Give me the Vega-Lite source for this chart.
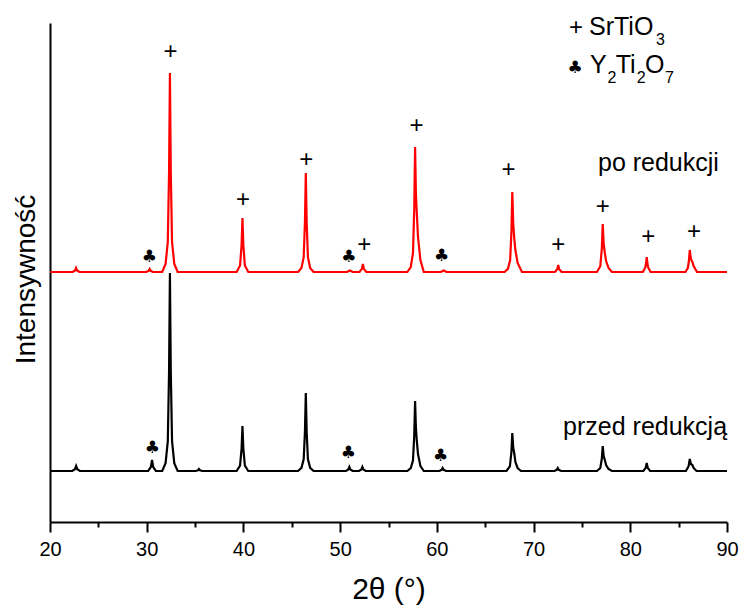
{
  "$schema": "https://vega.github.io/schema/vega-lite/v6.json",
  "width": 677,
  "height": 499,
  "autosize": {"type": "none"},
  "padding": {"left": 50, "top": 23, "right": 13, "bottom": 84},
  "background": "white",
  "config": {"view": {"stroke": null}, "font": "Liberation Sans"},
  "datasets": {
    "xrd": [
      {"sample": "przed redukcją", "t": 20, "v": 51},
      {"sample": "przed redukcją", "t": 22.3, "v": 51},
      {"sample": "przed redukcją", "t": 22.58, "v": 52.8},
      {"sample": "przed redukcją", "t": 22.7, "v": 56},
      {"sample": "przed redukcją", "t": 22.82, "v": 52.8},
      {"sample": "przed redukcją", "t": 23.1, "v": 51},
      {"sample": "przed redukcją", "t": 30.15, "v": 51},
      {"sample": "przed redukcją", "t": 30.43, "v": 54.9},
      {"sample": "przed redukcją", "t": 30.55, "v": 62},
      {"sample": "przed redukcją", "t": 30.67, "v": 54.9},
      {"sample": "przed redukcją", "t": 30.95, "v": 51},
      {"sample": "przed redukcją", "t": 31.6, "v": 51},
      {"sample": "przed redukcją", "t": 31.95, "v": 58.9},
      {"sample": "przed redukcją", "t": 32.18, "v": 80.7},
      {"sample": "przed redukcją", "t": 32.31, "v": 150},
      {"sample": "przed redukcją", "t": 32.4, "v": 249},
      {"sample": "przed redukcją", "t": 32.49, "v": 150},
      {"sample": "przed redukcją", "t": 32.62, "v": 80.7},
      {"sample": "przed redukcją", "t": 32.85, "v": 58.9},
      {"sample": "przed redukcją", "t": 33.2, "v": 51},
      {"sample": "przed redukcją", "t": 35.05, "v": 51},
      {"sample": "przed redukcją", "t": 35.3, "v": 51.8},
      {"sample": "przed redukcją", "t": 35.4, "v": 53},
      {"sample": "przed redukcją", "t": 35.5, "v": 51.8},
      {"sample": "przed redukcją", "t": 35.75, "v": 51},
      {"sample": "przed redukcją", "t": 39.3, "v": 51},
      {"sample": "przed redukcją", "t": 39.65, "v": 56.4},
      {"sample": "przed redukcją", "t": 39.81, "v": 73.5},
      {"sample": "przed redukcją", "t": 39.9, "v": 96},
      {"sample": "przed redukcją", "t": 39.99, "v": 73.5},
      {"sample": "przed redukcją", "t": 40.15, "v": 56.4},
      {"sample": "przed redukcją", "t": 40.5, "v": 51},
      {"sample": "przed redukcją", "t": 45.65, "v": 51},
      {"sample": "przed redukcją", "t": 46.0, "v": 54.1},
      {"sample": "przed redukcją", "t": 46.23, "v": 62.7},
      {"sample": "przed redukcją", "t": 46.36, "v": 90},
      {"sample": "przed redukcją", "t": 46.45, "v": 129},
      {"sample": "przed redukcją", "t": 46.54, "v": 90},
      {"sample": "przed redukcją", "t": 46.67, "v": 62.7},
      {"sample": "przed redukcją", "t": 46.9, "v": 54.1},
      {"sample": "przed redukcją", "t": 47.25, "v": 51},
      {"sample": "przed redukcją", "t": 50.6, "v": 51},
      {"sample": "przed redukcją", "t": 50.85, "v": 52.6},
      {"sample": "przed redukcją", "t": 50.95, "v": 55},
      {"sample": "przed redukcją", "t": 51.05, "v": 52.6},
      {"sample": "przed redukcją", "t": 51.3, "v": 51},
      {"sample": "przed redukcją", "t": 51.95, "v": 51},
      {"sample": "przed redukcją", "t": 52.2, "v": 52.6},
      {"sample": "przed redukcją", "t": 52.3, "v": 55},
      {"sample": "przed redukcją", "t": 52.4, "v": 52.6},
      {"sample": "przed redukcją", "t": 52.65, "v": 51},
      {"sample": "przed redukcją", "t": 56.95, "v": 51},
      {"sample": "przed redukcją", "t": 57.3, "v": 53.8},
      {"sample": "przed redukcją", "t": 57.53, "v": 61.5},
      {"sample": "przed redukcją", "t": 57.66, "v": 86},
      {"sample": "przed redukcją", "t": 57.75, "v": 121},
      {"sample": "przed redukcją", "t": 57.83, "v": 95},
      {"sample": "przed redukcją", "t": 57.92, "v": 82},
      {"sample": "przed redukcją", "t": 58.05, "v": 68},
      {"sample": "przed redukcją", "t": 58.3, "v": 56},
      {"sample": "przed redukcją", "t": 58.65, "v": 51},
      {"sample": "przed redukcją", "t": 60.25, "v": 51},
      {"sample": "przed redukcją", "t": 60.5, "v": 52.2},
      {"sample": "przed redukcją", "t": 60.6, "v": 54},
      {"sample": "przed redukcją", "t": 60.7, "v": 52.2},
      {"sample": "przed redukcją", "t": 60.95, "v": 51},
      {"sample": "przed redukcją", "t": 67.2, "v": 51},
      {"sample": "przed redukcją", "t": 67.55, "v": 55.6},
      {"sample": "przed redukcją", "t": 67.71, "v": 70},
      {"sample": "przed redukcją", "t": 67.8, "v": 89},
      {"sample": "przed redukcją", "t": 67.9, "v": 74},
      {"sample": "przed redukcją", "t": 68.0, "v": 69},
      {"sample": "przed redukcją", "t": 68.12, "v": 60},
      {"sample": "przed redukcją", "t": 68.35, "v": 54},
      {"sample": "przed redukcją", "t": 68.7, "v": 51},
      {"sample": "przed redukcją", "t": 72.15, "v": 51},
      {"sample": "przed redukcją", "t": 72.4, "v": 52.2},
      {"sample": "przed redukcją", "t": 72.5, "v": 54},
      {"sample": "przed redukcją", "t": 72.6, "v": 52.2},
      {"sample": "przed redukcją", "t": 72.85, "v": 51},
      {"sample": "przed redukcją", "t": 76.55, "v": 51},
      {"sample": "przed redukcją", "t": 76.9, "v": 54},
      {"sample": "przed redukcją", "t": 77.06, "v": 63.5},
      {"sample": "przed redukcją", "t": 77.15, "v": 76},
      {"sample": "przed redukcją", "t": 77.25, "v": 66},
      {"sample": "przed redukcją", "t": 77.37, "v": 62},
      {"sample": "przed redukcją", "t": 77.5, "v": 57},
      {"sample": "przed redukcją", "t": 77.75, "v": 53},
      {"sample": "przed redukcją", "t": 78.1, "v": 51},
      {"sample": "przed redukcją", "t": 81.35, "v": 51},
      {"sample": "przed redukcją", "t": 81.6, "v": 54.2},
      {"sample": "przed redukcją", "t": 81.7, "v": 59},
      {"sample": "przed redukcją", "t": 81.8, "v": 54.2},
      {"sample": "przed redukcją", "t": 82.05, "v": 51},
      {"sample": "przed redukcją", "t": 85.75, "v": 51},
      {"sample": "przed redukcją", "t": 86.03, "v": 55.8},
      {"sample": "przed redukcją", "t": 86.15, "v": 63},
      {"sample": "przed redukcją", "t": 86.27, "v": 58},
      {"sample": "przed redukcją", "t": 86.42, "v": 57},
      {"sample": "przed redukcją", "t": 86.55, "v": 54},
      {"sample": "przed redukcją", "t": 86.85, "v": 51},
      {"sample": "przed redukcją", "t": 90, "v": 51},
      {"sample": "po redukcji", "t": 20, "v": 250},
      {"sample": "po redukcji", "t": 22.35, "v": 250},
      {"sample": "po redukcji", "t": 22.6, "v": 251.6},
      {"sample": "po redukcji", "t": 22.7, "v": 254},
      {"sample": "po redukcji", "t": 22.8, "v": 251.6},
      {"sample": "po redukcji", "t": 23.05, "v": 250},
      {"sample": "po redukcji", "t": 29.95, "v": 250},
      {"sample": "po redukcji", "t": 30.2, "v": 251.2},
      {"sample": "po redukcji", "t": 30.3, "v": 253},
      {"sample": "po redukcji", "t": 30.4, "v": 251.2},
      {"sample": "po redukcji", "t": 30.65, "v": 250},
      {"sample": "po redukcji", "t": 31.6, "v": 250},
      {"sample": "po redukcji", "t": 31.95, "v": 258},
      {"sample": "po redukcji", "t": 32.18, "v": 279.9},
      {"sample": "po redukcji", "t": 32.31, "v": 349.5},
      {"sample": "po redukcji", "t": 32.4, "v": 449},
      {"sample": "po redukcji", "t": 32.49, "v": 349.5},
      {"sample": "po redukcji", "t": 32.62, "v": 279.9},
      {"sample": "po redukcji", "t": 32.85, "v": 258},
      {"sample": "po redukcji", "t": 33.2, "v": 250},
      {"sample": "po redukcji", "t": 39.3, "v": 250},
      {"sample": "po redukcji", "t": 39.65, "v": 256.5},
      {"sample": "po redukcji", "t": 39.81, "v": 277},
      {"sample": "po redukcji", "t": 39.9, "v": 304},
      {"sample": "po redukcji", "t": 39.99, "v": 277},
      {"sample": "po redukcji", "t": 40.15, "v": 256.5},
      {"sample": "po redukcji", "t": 40.5, "v": 250},
      {"sample": "po redukcji", "t": 45.65, "v": 250},
      {"sample": "po redukcji", "t": 46.0, "v": 254},
      {"sample": "po redukcji", "t": 46.23, "v": 264.9},
      {"sample": "po redukcji", "t": 46.36, "v": 299.5},
      {"sample": "po redukcji", "t": 46.45, "v": 349},
      {"sample": "po redukcji", "t": 46.54, "v": 299.5},
      {"sample": "po redukcji", "t": 46.67, "v": 264.9},
      {"sample": "po redukcji", "t": 46.9, "v": 254},
      {"sample": "po redukcji", "t": 47.25, "v": 250},
      {"sample": "po redukcji", "t": 50.7, "v": 250},
      {"sample": "po redukcji", "t": 51.0, "v": 251.5},
      {"sample": "po redukcji", "t": 51.3, "v": 250},
      {"sample": "po redukcji", "t": 52.0, "v": 250},
      {"sample": "po redukcji", "t": 52.25, "v": 253.2},
      {"sample": "po redukcji", "t": 52.35, "v": 258},
      {"sample": "po redukcji", "t": 52.45, "v": 253.2},
      {"sample": "po redukcji", "t": 52.7, "v": 250},
      {"sample": "po redukcji", "t": 56.95, "v": 250},
      {"sample": "po redukcji", "t": 57.3, "v": 255},
      {"sample": "po redukcji", "t": 57.53, "v": 268.8},
      {"sample": "po redukcji", "t": 57.66, "v": 312.5},
      {"sample": "po redukcji", "t": 57.75, "v": 375},
      {"sample": "po redukcji", "t": 57.83, "v": 330},
      {"sample": "po redukcji", "t": 57.92, "v": 310},
      {"sample": "po redukcji", "t": 58.05, "v": 285},
      {"sample": "po redukcji", "t": 58.3, "v": 262},
      {"sample": "po redukcji", "t": 58.65, "v": 250},
      {"sample": "po redukcji", "t": 60.4, "v": 250},
      {"sample": "po redukcji", "t": 60.7, "v": 251.5},
      {"sample": "po redukcji", "t": 61.0, "v": 250},
      {"sample": "po redukcji", "t": 67.0, "v": 250},
      {"sample": "po redukcji", "t": 67.35, "v": 253.2},
      {"sample": "po redukcji", "t": 67.58, "v": 262},
      {"sample": "po redukcji", "t": 67.71, "v": 290},
      {"sample": "po redukcji", "t": 67.8, "v": 330},
      {"sample": "po redukcji", "t": 67.9, "v": 298},
      {"sample": "po redukcji", "t": 68.0, "v": 284},
      {"sample": "po redukcji", "t": 68.12, "v": 272},
      {"sample": "po redukcji", "t": 68.35, "v": 259},
      {"sample": "po redukcji", "t": 68.8, "v": 250},
      {"sample": "po redukcji", "t": 72.2, "v": 250},
      {"sample": "po redukcji", "t": 72.45, "v": 252.8},
      {"sample": "po redukcji", "t": 72.55, "v": 257},
      {"sample": "po redukcji", "t": 72.65, "v": 252.8},
      {"sample": "po redukcji", "t": 72.9, "v": 250},
      {"sample": "po redukcji", "t": 76.55, "v": 250},
      {"sample": "po redukcji", "t": 76.9, "v": 255.8},
      {"sample": "po redukcji", "t": 77.06, "v": 274},
      {"sample": "po redukcji", "t": 77.15, "v": 298},
      {"sample": "po redukcji", "t": 77.25, "v": 278},
      {"sample": "po redukcji", "t": 77.37, "v": 269},
      {"sample": "po redukcji", "t": 77.5, "v": 261},
      {"sample": "po redukcji", "t": 77.75, "v": 254},
      {"sample": "po redukcji", "t": 78.1, "v": 250},
      {"sample": "po redukcji", "t": 81.3, "v": 250},
      {"sample": "po redukcji", "t": 81.55, "v": 254.5},
      {"sample": "po redukcji", "t": 81.62, "v": 258},
      {"sample": "po redukcji", "t": 81.7, "v": 265},
      {"sample": "po redukcji", "t": 81.78, "v": 258},
      {"sample": "po redukcji", "t": 81.85, "v": 254.5},
      {"sample": "po redukcji", "t": 82.1, "v": 250},
      {"sample": "po redukcji", "t": 85.7, "v": 250},
      {"sample": "po redukcji", "t": 85.95, "v": 254},
      {"sample": "po redukcji", "t": 86.06, "v": 261},
      {"sample": "po redukcji", "t": 86.15, "v": 272},
      {"sample": "po redukcji", "t": 86.27, "v": 263},
      {"sample": "po redukcji", "t": 86.42, "v": 260},
      {"sample": "po redukcji", "t": 86.55, "v": 256},
      {"sample": "po redukcji", "t": 86.9, "v": 250},
      {"sample": "po redukcji", "t": 90, "v": 250}
    ],
    "marks": [
      {"kind": "plus", "t": 32.45, "v": 470, "text": "+"},
      {"kind": "plus", "t": 39.95, "v": 322, "text": "+"},
      {"kind": "plus", "t": 46.5, "v": 362, "text": "+"},
      {"kind": "plus", "t": 52.5, "v": 277, "text": "+"},
      {"kind": "plus", "t": 57.9, "v": 396, "text": "+"},
      {"kind": "plus", "t": 67.4, "v": 352, "text": "+"},
      {"kind": "plus", "t": 72.55, "v": 277, "text": "+"},
      {"kind": "plus", "t": 77.15, "v": 315, "text": "+"},
      {"kind": "plus", "t": 81.85, "v": 285, "text": "+"},
      {"kind": "plus", "t": 86.6, "v": 290, "text": "+"},
      {"kind": "plus", "t": 74.39, "v": 494, "text": "+"},
      {"kind": "club", "t": 30.27, "v": 265, "text": "♣"},
      {"kind": "club", "t": 50.9, "v": 265, "text": "♣"},
      {"kind": "club", "t": 60.5, "v": 266, "text": "♣"},
      {"kind": "club", "t": 30.58, "v": 74, "text": "♣"},
      {"kind": "club", "t": 50.85, "v": 69, "text": "♣"},
      {"kind": "club", "t": 60.4, "v": 66, "text": "♣"},
      {"kind": "club", "t": 74.29, "v": 454, "text": "♣"},
      {"kind": "label", "t": 76.66, "v": 351, "text": "po redukcji"},
      {"kind": "label", "t": 73.05, "v": 87, "text": "przed redukcją"},
      {"kind": "legend", "t": 75.73, "v": 487, "text": "SrTiO"},
      {"kind": "sub", "t": 82.67, "v": 477, "text": "3"},
      {"kind": "legend", "t": 75.84, "v": 449, "text": "Y"},
      {"kind": "sub", "t": 77.65, "v": 439, "text": "2"},
      {"kind": "legend", "t": 78.5, "v": 449, "text": "Ti"},
      {"kind": "sub", "t": 80.67, "v": 439, "text": "2"},
      {"kind": "legend", "t": 81.52, "v": 449, "text": "O"},
      {"kind": "sub", "t": 83.6, "v": 439, "text": "7"}
    ]
  },
  "layer": [
    {
      "data": {"name": "xrd"},
      "mark": {"type": "line", "strokeWidth": 2.2, "interpolate": "linear"},
      "encoding": {
        "x": {
          "field": "t", "type": "quantitative",
          "scale": {"domain": [20, 90], "nice": false, "zero": false},
          "axis": {
            "values": [20, 25, 30, 35, 40, 45, 50, 55, 60, 65, 70, 75, 80, 85, 90],
            "labelExpr": "datum.value % 10 === 0 ? datum.label : ''",
            "grid": false,
            "domainColor": "black", "domainWidth": 2,
            "tickColor": "black", "tickWidth": 2,
            "tickSize": {"condition": {"test": "datum.value % 10 === 0", "value": 10}, "value": 5},
            "labelFont": "Liberation Sans", "labelFontSize": 20, "labelColor": "black",
            "labelPadding": 7, "labelFlush": false, "labelOverlap": false,
            "title": "2θ (°)", "titleFont": "Liberation Sans", "titleFontSize": 30,
            "titleFontWeight": "normal", "titleColor": "black", "titlePadding": 15
          }
        },
        "y": {
          "field": "v", "type": "quantitative",
          "scale": {"domain": [0, 499], "nice": false, "zero": false},
          "axis": {
            "ticks": false, "labels": false, "grid": false,
            "domainColor": "black", "domainWidth": 2,
            "title": "Intensywność", "titleFont": "Liberation Sans", "titleFontSize": 28,
            "titleFontWeight": "normal", "titleColor": "black", "titlePadding": 10,
            "titleY": 256
          }
        },
        "color": {
          "field": "sample", "type": "nominal",
          "scale": {"domain": ["po redukcji", "przed redukcją"], "range": ["#ff0000", "#000000"]},
          "legend": null
        },
        "order": {"field": "t", "type": "quantitative"}
      }
    },
    {
      "data": {"name": "marks"},
      "transform": [{"filter": "datum.kind === 'plus'"}],
      "mark": {"type": "text", "font": "Liberation Sans", "fontSize": 24, "align": "center", "baseline": "middle", "color": "black"},
      "encoding": {
        "x": {"field": "t", "type": "quantitative"},
        "y": {"field": "v", "type": "quantitative"},
        "text": {"field": "text"}
      }
    },
    {
      "data": {"name": "marks"},
      "transform": [{"filter": "datum.kind === 'club'"}],
      "mark": {"type": "text", "font": "DejaVu Sans", "fontSize": 17, "align": "center", "baseline": "middle", "color": "black"},
      "encoding": {
        "x": {"field": "t", "type": "quantitative"},
        "y": {"field": "v", "type": "quantitative"},
        "text": {"field": "text"}
      }
    },
    {
      "data": {"name": "marks"},
      "transform": [{"filter": "datum.kind === 'label'"}],
      "mark": {"type": "text", "font": "Liberation Sans", "fontSize": 25, "align": "left", "baseline": "alphabetic", "color": "black"},
      "encoding": {
        "x": {"field": "t", "type": "quantitative"},
        "y": {"field": "v", "type": "quantitative"},
        "text": {"field": "text"}
      }
    },
    {
      "data": {"name": "marks"},
      "transform": [{"filter": "datum.kind === 'legend'"}],
      "mark": {"type": "text", "font": "Liberation Sans", "fontSize": 25, "align": "left", "baseline": "alphabetic", "color": "black"},
      "encoding": {
        "x": {"field": "t", "type": "quantitative"},
        "y": {"field": "v", "type": "quantitative"},
        "text": {"field": "text"}
      }
    },
    {
      "data": {"name": "marks"},
      "transform": [{"filter": "datum.kind === 'sub'"}],
      "mark": {"type": "text", "font": "Liberation Sans", "fontSize": 16, "align": "left", "baseline": "alphabetic", "color": "black"},
      "encoding": {
        "x": {"field": "t", "type": "quantitative"},
        "y": {"field": "v", "type": "quantitative"},
        "text": {"field": "text"}
      }
    }
  ]
}
